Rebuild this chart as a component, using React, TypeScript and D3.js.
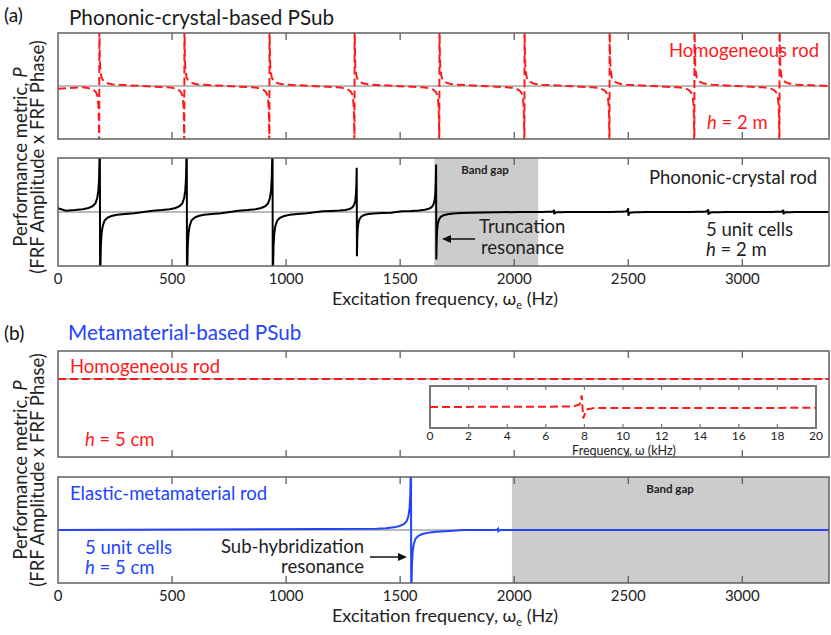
import React from 'react';
import * as d3 from 'd3';

const W = 831;
const H = 635;
const FONT = 'Lato, "DejaVu Sans", sans-serif';
const RED = '#ff1a1a';
const BLUE = '#2244ff';
const FRAME = '#606060';
const TXT = 18.5;

const FREQ_MAX = 3380;
const FREQ_TICKS = [0, 500, 1000, 1500, 2000, 2500, 3000];
const INSET_TICKS = [0, 2, 4, 6, 8, 10, 12, 14, 16, 18, 20];

// shape of one resonance tail: distance from resonance (Hz) -> |P|
const tailHz = [0.5, 2, 4, 7, 12, 20, 32, 50, 75, 110, 150];
const tailP = [1.6, 1.0, 0.62, 0.4, 0.26, 0.16, 0.11, 0.075, 0.05, 0.035, 0.025];

// (a) homogeneous rod, h = 2 m
const homoResA = [181, 554, 927, 1300, 1672, 2045, 2418, 2790, 3163];
const homoPeaksA = [1.6, 1.6, 1.6, 1.6, 1.6, 1.6, 1.6, 1.6, 1.6];
const homoStartA = -0.05;
const homoTailWidth = 0.5;

// (a) phononic-crystal rod
const pcRes = [184, 565, 941, 1310, 1658, 2175, 2500, 2851, 3180];
const pcPeaks = [1.6, 1.6, 1.6, 0.82, 0.88, 0.04, 0.07, 0.05, 0.04];
const pcStart = 0.07;
const pcBandGap = [1650, 2105];

// (b) elastic-metamaterial rod
const metaRes = [1548, 1930];
const metaPeaks = [1.6, 0.02];
const metaBandGap = [1990, FREQ_MAX];

// (b) homogeneous rod, inset (kHz)
const insetKhz = [0, 7.4, 7.75, 7.86, 7.9, 7.94, 8.1, 8.5, 20];
const insetP = [0, 0.02, 0.12, 0.55, 0, -0.55, -0.12, -0.05, -0.04];

type Pt = [number, number];

function resonanceCurve(res: number[], peaks: number[], sign: number, startP: number, width = 1): Pt[] {
  const pts: Pt[] = [[0, startP]];
  res.forEach((f, i) => {
    const k = peaks[i] / tailP[0];
    for (let j = tailHz.length - 1; j >= 0; j--) pts.push([f - tailHz[j] * width, sign * tailP[j] * k]);
    for (let j = 0; j < tailHz.length; j++) pts.push([f + tailHz[j] * width, -sign * tailP[j] * k]);
  });
  pts.push([FREQ_MAX, 0]);
  return pts;
}

const x = d3.scaleLinear().domain([0, FREQ_MAX]).range([58, 829]);

interface PanelProps {
  id: string;
  top: number;
  bottom: number;
  yDomain: [number, number];
  gap?: number[];
  children: (y: d3.ScaleLinear<number, number>) => React.ReactNode;
}

const Panel = ({ id, top, bottom, yDomain, gap, children }: PanelProps) => {
  const y = d3.scaleLinear().domain(yDomain).range([bottom, top]);
  const [x0, x1] = x.range();
  return (
    <g>
      <defs>
        <clipPath id={id}>
          <rect x={x0} y={top} width={x1 - x0} height={bottom - top} />
        </clipPath>
      </defs>
      {gap && (
        <rect x={x(gap[0])} y={top} width={x(gap[1]) - x(gap[0])} height={bottom - top} fill="#cccccc" />
      )}
      <line x1={x0} x2={x1} y1={y(0)} y2={y(0)} stroke="#777" strokeWidth={1} />
      <g clipPath={`url(#${id})`}>{children(y)}</g>
      <rect x={x0} y={top} width={x1 - x0} height={bottom - top} fill="none" stroke={FRAME} strokeWidth={1.5} />
      {FREQ_TICKS.slice(1).map((t) => (
        <g key={t} stroke={FRAME} strokeWidth={1.3}>
          <line x1={x(t)} x2={x(t)} y1={top} y2={top + 7} />
          <line x1={x(t)} x2={x(t)} y1={bottom} y2={bottom - 7} />
        </g>
      ))}
    </g>
  );
};

const FreqAxis = ({ bottom }: { bottom: number }) => (
  <g fontFamily={FONT} fill="#222">
    {FREQ_TICKS.map((t) => (
      <text key={t} x={x(t)} y={bottom + 18} fontSize={15} textAnchor="middle">
        {t}
      </text>
    ))}
    <text x={445} y={bottom + 39} fontSize={18} textAnchor="middle">
      Excitation frequency, ω
      <tspan fontSize={11} dy={4}>e</tspan>
      <tspan dy={-4}> (Hz)</tspan>
    </text>
  </g>
);

const YLabel = ({ cy }: { cy: number }) => (
  <g fontFamily={FONT} fontSize={18.5} fill="#222" textAnchor="middle">
    <text transform={`translate(27,${cy}) rotate(-90)`}>
      Performance metric, <tspan fontStyle="italic">P</tspan>
    </text>
    <text transform={`translate(44,${cy}) rotate(-90)`}>(FRF Amplitude x FRF Phase)</text>
  </g>
);

const Arrow = ({ from, to, y }: { from: number; to: number; y: number }) => {
  const dir = Math.sign(to - from);
  return (
    <g>
      <line x1={from} x2={to - dir * 7} y1={y} y2={y} stroke="#111" strokeWidth={1.5} />
      <path d={`M${to},${y} L${to - dir * 9},${y - 4} L${to - dir * 9},${y + 4} Z`} fill="#111" />
    </g>
  );
};

export default function App() {
  const homoA = resonanceCurve(homoResA, homoPeaksA, -1, homoStartA, homoTailWidth);
  const pc = resonanceCurve(pcRes, pcPeaks, 1, pcStart);
  const meta = resonanceCurve(metaRes, metaPeaks, 1, 0);

  const ix = d3.scaleLinear().domain([0, 20]).range([430, 816]);
  const iy = d3.scaleLinear().domain([-1, 1]).range([428, 386]);
  const insetLine = d3.line<number>().x((d) => ix(d)).y((_, i) => iy(insetP[i]));

  const curve = (y: d3.ScaleLinear<number, number>) =>
    d3.line<Pt>().x((d) => x(d[0])).y((d) => y(d[1]));

  return (
    <svg
      width={W}
      height={H}
      viewBox={`0 0 ${W} ${H}`}
      style={{ position: 'absolute', left: 0, top: 0, background: '#fff' }}
      fontFamily={FONT}
    >
      {/* (a) */}
      <text x={4} y={22} fontSize={19} fill="#111">(a)</text>
      <text x={69} y={25} fontSize={20.7} fill="#1a1a1a">Phononic-crystal-based PSub</text>

      <Panel id="ca1" top={33} bottom={139} yDomain={[-1, 1]}>
        {(y) => (
          <path d={curve(y)(homoA) || ''} fill="none" stroke={RED} strokeWidth={2} strokeDasharray="8,4" />
        )}
      </Panel>
      <text x={819} y={57} fontSize={TXT} fill={RED} textAnchor="end">Homogeneous rod</text>
      <text x={707} y={129} fontSize={TXT} fill={RED}>
        <tspan fontStyle="italic">h</tspan> = 2 m
      </text>

      <Panel id="ca2" top={158} bottom={266} yDomain={[-1, 1]} gap={pcBandGap}>
        {(y) => <path d={curve(y)(pc) || ''} fill="none" stroke="#000" strokeWidth={2} />}
      </Panel>
      <text x={485} y={174} fontSize={11.5} fontWeight="bold" fill="#222" textAnchor="middle">Band gap</text>
      <text x={817} y={184} fontSize={TXT} fill="#222" textAnchor="end">Phononic-crystal rod</text>
      <text x={479} y={233} fontSize={TXT} fill="#222">Truncation</text>
      <text x={481} y={254} fontSize={TXT} fill="#222">resonance</text>
      <Arrow from={475} to={442} y={239} />
      <text x={706} y={236} fontSize={TXT} fill="#222">5 unit cells</text>
      <text x={706} y={256} fontSize={TXT} fill="#222">
        <tspan fontStyle="italic">h</tspan> = 2 m
      </text>
      <FreqAxis bottom={266} />
      <YLabel cy={157} />

      {/* (b) */}
      <text x={4} y={340} fontSize={19} fill="#111">(b)</text>
      <text x={68} y={340} fontSize={20.7} fill={BLUE}>Metamaterial-based PSub</text>

      <Panel id="cb1" top={351} bottom={457} yDomain={[-2.8, 1]}>
        {(y) => (
          <line x1={x(0)} x2={x(FREQ_MAX)} y1={y(0)} y2={y(0)} stroke={RED} strokeWidth={2} strokeDasharray="8,4" />
        )}
      </Panel>
      <text x={70} y={373} fontSize={TXT} fill={RED}>Homogeneous rod</text>
      <text x={85} y={446} fontSize={TXT} fill={RED}>
        <tspan fontStyle="italic">h</tspan> = 5 cm
      </text>

      {/* inset */}
      <g>
        <rect x={430} y={386} width={386} height={42} fill="#fff" stroke="#777" strokeWidth={2} />
        {INSET_TICKS.slice(1, -1).map((t) => (
          <g key={t} stroke="#777" strokeWidth={1.2}>
            <line x1={ix(t)} x2={ix(t)} y1={386} y2={390} />
            <line x1={ix(t)} x2={ix(t)} y1={428} y2={424} />
          </g>
        ))}
        <path d={insetLine(insetKhz) || ''} fill="none" stroke={RED} strokeWidth={2} strokeDasharray="8,4" />
        {INSET_TICKS.map((t) => (
          <text key={t} x={ix(t)} y={440} fontSize={12} fill="#222" textAnchor="middle">{t}</text>
        ))}
        <text x={624} y={455} fontSize={12.5} fill="#222" textAnchor="middle">Frequency, ω (kHz)</text>
      </g>

      <Panel id="cb2" top={477} bottom={583} yDomain={[-1, 1]} gap={metaBandGap}>
        {(y) => <path d={curve(y)(meta) || ''} fill="none" stroke={BLUE} strokeWidth={2} />}
      </Panel>
      <text x={670} y={493} fontSize={11.5} fontWeight="bold" fill="#222" textAnchor="middle">Band gap</text>
      <text x={70} y={500} fontSize={TXT} fill={BLUE}>Elastic-metamaterial rod</text>
      <text x={85} y={554} fontSize={TXT} fill={BLUE}>5 unit cells</text>
      <text x={85} y={574} fontSize={TXT} fill={BLUE}>
        <tspan fontStyle="italic">h</tspan> = 5 cm
      </text>
      <text x={364} y={553} fontSize={TXT} fill="#222" textAnchor="end">Sub-hybridization</text>
      <text x={364} y={573} fontSize={TXT} fill="#222" textAnchor="end">resonance</text>
      <Arrow from={370} to={407} y={557} />
      <FreqAxis bottom={583} />
      <YLabel cy={470} />
    </svg>
  );
}
